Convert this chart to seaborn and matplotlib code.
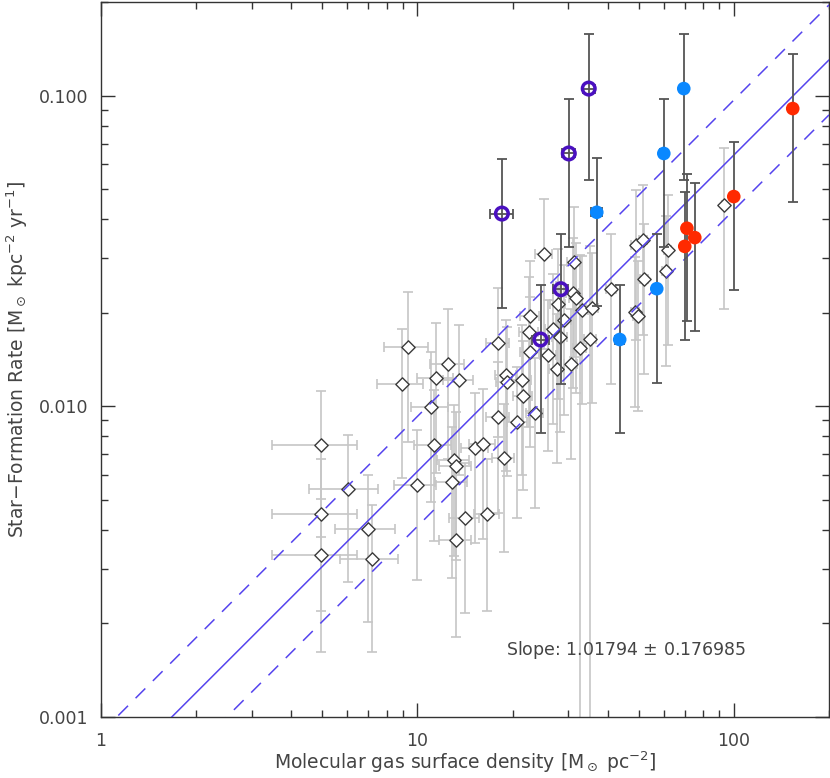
import numpy as np
import matplotlib
matplotlib.use('Agg')
import matplotlib.pyplot as plt
import seaborn as sns
from matplotlib.ticker import LogLocator, FuncFormatter, NullFormatter

# gray diamonds: gas surface density, SFR, SFR error
gas_gray = [4.96, 6.03, 4.96, 6.98, 4.96, 7.18, 9.33, 8.93, 12.49, 11.44,
            13.53, 11.03, 9.96, 11.28, 13.04, 13.23, 12.85, 14.13, 13.23, 15.2,
            16.1, 16.58, 18.77, 17.96, 20.63, 23.5, 17.96, 19.04, 19.18, 21.38,
            21.54, 22.68, 22.51, 22.68, 25.85, 25.1, 31.2, 31.0, 31.7, 27.8,
            26.8, 29.0, 28.2, 33.1, 35.6, 40.9, 32.6, 35.1, 27.6, 30.5,
            49.0, 51.6, 61.9, 61.0, 51.9, 48.7, 49.7, 93.0]
sfr_gray = [0.00749, 0.00541, 0.00449, 0.00402, 0.00332, 0.00322, 0.01547, 0.01177, 0.01365, 0.0123,
            0.01212, 0.00993, 0.00557, 0.00749, 0.0067, 0.00641, 0.0057, 0.00436, 0.00371, 0.00733,
            0.00755, 0.00449, 0.0068, 0.00922, 0.00888, 0.0095, 0.01594, 0.01258, 0.01195, 0.01212,
            0.01077, 0.01947, 0.0173, 0.01492, 0.01459, 0.0308, 0.02904, 0.02309, 0.02225, 0.02128,
            0.01768, 0.0189, 0.01667, 0.02035, 0.02066, 0.02378, 0.01536, 0.01642, 0.01315, 0.01365,
            0.03294, 0.03418, 0.03174, 0.02717, 0.0256, 0.02006, 0.01947, 0.0443]
err_gray = [0.0037, 0.0027, 0.0023, 0.0020, 0.0017, 0.0016, 0.0078, 0.0059, 0.0069, 0.0062,
            0.0061, 0.0050, 0.0028, 0.0038, 0.0034, 0.0032, 0.0029, 0.0022, 0.0019, 0.0037,
            0.0038, 0.0023, 0.0034, 0.0047, 0.0045, 0.0048, 0.0080, 0.0064, 0.0060, 0.0061,
            0.0054, 0.0098, 0.0087, 0.0075, 0.0074, 0.0155, 0.0146, 0.0116, 0.0112, 0.0107,
            0.0089, 0.0095, 0.0084, 0.0102, 0.0104, 0.0120, 0.0153, 0.0163, 0.0066, 0.0069,
            0.0166, 0.0172, 0.0160, 0.0137, 0.0129, 0.0101, 0.0098, 0.0237]
gas_err = 1.5

# blue filled circles
gas_blue = [69.5, 60.1, 36.9, 57.1, 43.6]
sfr_blue = [0.1053, 0.0651, 0.0421, 0.0239, 0.0164]
err_blue = [0.052, 0.0325, 0.021, 0.012, 0.0082]

# purple open circles
gas_purple = [34.8, 30.1, 18.5, 28.4, 24.5]
sfr_purple = [0.1053, 0.0651, 0.0417, 0.0238, 0.0164]
err_purple = [0.052, 0.0325, 0.021, 0.012, 0.0082]

# red filled circles
gas_red = [153.6, 100.0, 71.1, 75.3, 70.0]
sfr_red = [0.0908, 0.0473, 0.0374, 0.0349, 0.0327]
err_red = [0.0453, 0.0237, 0.0186, 0.0174, 0.0163]

# fit
slope = 1.01794
slope_err = 0.176985
norm = 5.92e-4
scatter = 1.503

sns.set_style('ticks')
plt.rcParams['font.family'] = ['DejaVu Sans']

fig = plt.figure(figsize=(8.3, 7.78), dpi=100)
ax = fig.add_axes([101/830, 61/778, 728/830, 715/778])
ax.set_xscale('log')
ax.set_yscale('log')
ax.set_xlim(1, 200)
ax.set_ylim(0.001, 0.2)

ax.errorbar(gas_gray, sfr_gray, xerr=gas_err, yerr=err_gray, fmt='none',
            ecolor='#c6c6c6', elinewidth=1.2, capsize=3.5, capthick=1.2, zorder=1)
sns.scatterplot(x=gas_gray, y=sfr_gray, marker='D', s=46, color='white',
                edgecolor='#3a3a3a', linewidth=1.0, ax=ax, zorder=2)

xfit = np.array([1.0, 200.0])
yfit = norm * xfit ** slope
sns.lineplot(x=xfit, y=yfit, color='#5544ee', lw=1.1, ax=ax, zorder=3)
ax.plot(xfit, yfit * scatter, color='#5544ee', lw=1.1, ls=(0, (9, 7)), zorder=3)
ax.plot(xfit, yfit / scatter, color='#5544ee', lw=1.1, ls=(0, (9, 7)), zorder=3)

for gx, sy, ey in [(gas_blue, sfr_blue, err_blue), (gas_purple, sfr_purple, err_purple),
                   (gas_red, sfr_red, err_red)]:
    ax.errorbar(gx, sy, xerr=gas_err, yerr=ey, fmt='none', ecolor='#555555',
                elinewidth=1.3, capsize=3.5, capthick=1.3, zorder=4)

sns.scatterplot(x=gas_blue, y=sfr_blue, marker='o', s=96, color='#0a88ff',
                edgecolor='none', ax=ax, zorder=5)
sns.scatterplot(x=gas_red, y=sfr_red, marker='o', s=96, color='#ff2a00',
                edgecolor='none', ax=ax, zorder=5)
sns.scatterplot(x=gas_purple, y=sfr_purple, marker='o', s=82, color='none',
                edgecolor='#4a10c0', linewidth=2.5, ax=ax, zorder=5)

ax.text(19.0, 0.00164, 'Slope: %.5f $\\pm$ %.6f' % (slope, slope_err),
        ha='left', va='center', fontsize=12.5, color='#444444')

for s in ax.spines.values():
    s.set_color('#333333')
    s.set_linewidth(1.0)
ax.tick_params(which='both', direction='in', top=True, right=True, color='#333333',
               labelcolor='#444444', labelsize=12.5)
ax.tick_params(which='major', length=10, width=1.0)
ax.tick_params(which='minor', length=5, width=1.0)
ax.tick_params(axis='x', which='major', pad=11)
ax.tick_params(axis='y', which='major', pad=9)
ax.xaxis.set_major_locator(LogLocator(base=10, numticks=10))
ax.yaxis.set_major_locator(LogLocator(base=10, numticks=10))
ax.xaxis.set_major_formatter(FuncFormatter(lambda v, p: '%d' % round(v)))
ax.yaxis.set_major_formatter(FuncFormatter(lambda v, p: '%.3f' % v))
ax.xaxis.set_minor_formatter(NullFormatter())
ax.yaxis.set_minor_formatter(NullFormatter())

ax.set_xlabel('Molecular gas surface density [M$_\\odot$ pc$^{-2}$]', fontsize=13.5, color='#444444')
ax.set_ylabel('Star$-$Formation Rate [M$_\\odot$ kpc$^{-2}$ yr$^{-1}$]', fontsize=13.5, color='#444444')
ax.xaxis.set_label_coords(0.5, -0.045)
ax.yaxis.set_label_coords(-0.097, 0.5)

fig.savefig('out.png', dpi=100)
